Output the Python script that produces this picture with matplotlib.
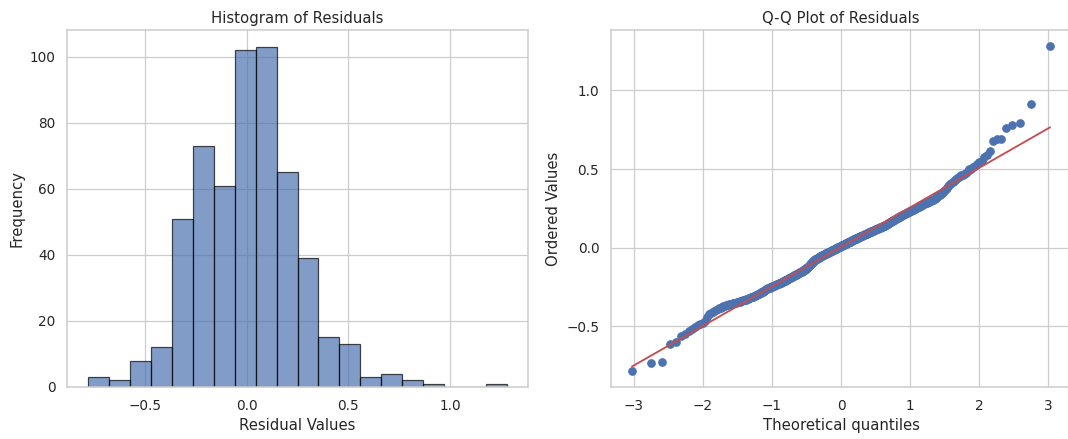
import numpy as np
import matplotlib
matplotlib.use("Agg")
import matplotlib.pyplot as plt
import seaborn as sns
from statistics import NormalDist

resid_cola_izq = [
    -0.783, -0.735, -0.728,
    -0.611, -0.597,
    -0.562, -0.548, -0.531, -0.515, -0.503, -0.494, -0.486, -0.479,
    -0.468, -0.441, -0.424, -0.415, -0.409, -0.402, -0.397, -0.391, -0.386, -0.382, -0.378, -0.374,
]

resid_bajo = [
    -0.368, -0.366, -0.364, -0.363, -0.361, -0.359, -0.357, -0.355, -0.354, -0.352,
    -0.350, -0.348, -0.346, -0.344, -0.343, -0.341, -0.339, -0.337, -0.335, -0.333,
    -0.331, -0.330, -0.328, -0.326, -0.324, -0.322, -0.320, -0.318, -0.317, -0.315,
    -0.313, -0.311, -0.309, -0.307, -0.305, -0.303, -0.301, -0.299, -0.297, -0.295,
    -0.293, -0.291, -0.289, -0.287, -0.285, -0.283, -0.281, -0.278, -0.276, -0.273, -0.270,
    -0.265, -0.264, -0.262, -0.261, -0.259, -0.258, -0.257, -0.255, -0.254, -0.252,
    -0.251, -0.250, -0.248, -0.247, -0.245, -0.244, -0.243, -0.241, -0.240, -0.238,
    -0.237, -0.236, -0.234, -0.233, -0.231, -0.230, -0.229, -0.227, -0.226, -0.224,
    -0.223, -0.222, -0.220, -0.219, -0.217, -0.216, -0.215, -0.213, -0.212, -0.210,
    -0.209, -0.208, -0.206, -0.205, -0.203, -0.202, -0.201, -0.199, -0.198, -0.196,
    -0.195, -0.194, -0.192, -0.191, -0.189, -0.188, -0.187, -0.185, -0.184, -0.182,
    -0.181, -0.180, -0.178, -0.177, -0.175, -0.174, -0.173, -0.171, -0.170, -0.169,
    -0.168, -0.167, -0.166,
    -0.162, -0.161, -0.160, -0.159, -0.158, -0.157, -0.156, -0.154, -0.153, -0.152,
    -0.151, -0.149, -0.148, -0.147, -0.145, -0.144, -0.142, -0.141, -0.139, -0.137,
    -0.136, -0.134, -0.132, -0.130, -0.128, -0.126, -0.124, -0.122, -0.120, -0.118,
    -0.116, -0.114, -0.112, -0.110, -0.107, -0.105, -0.103, -0.100, -0.098, -0.096,
    -0.093, -0.091, -0.089, -0.087, -0.085, -0.083, -0.081, -0.079, -0.077, -0.075,
    -0.074, -0.072, -0.071, -0.070, -0.069, -0.067, -0.066, -0.065, -0.064, -0.063,
    -0.062,
]

resid_centro = [
    -0.059, -0.058, -0.057, -0.055, -0.054, -0.053, -0.052, -0.051, -0.050, -0.049,
    -0.048, -0.047, -0.046, -0.045, -0.044, -0.043, -0.042, -0.041, -0.040, -0.039,
    -0.038, -0.037, -0.036, -0.035, -0.034, -0.033, -0.032, -0.031, -0.030, -0.029,
    -0.028, -0.027, -0.026, -0.025, -0.024, -0.023, -0.022, -0.021, -0.020, -0.019,
    -0.018, -0.017, -0.016, -0.015, -0.014, -0.013, -0.012, -0.011, -0.010, -0.009,
    -0.008, -0.007, -0.006, -0.005, -0.004, -0.003, -0.002, -0.001, 0.000, 0.001,
    0.002, 0.003, 0.004, 0.005, 0.006, 0.007, 0.008, 0.009, 0.010, 0.011,
    0.012, 0.013, 0.014, 0.015, 0.016, 0.017, 0.018, 0.019, 0.020, 0.021,
    0.022, 0.023, 0.024, 0.025, 0.026, 0.027, 0.028, 0.029, 0.030, 0.031,
    0.032, 0.033, 0.034, 0.035, 0.036, 0.037, 0.038, 0.038, 0.039, 0.040,
    0.041, 0.041,
    0.044, 0.045, 0.046, 0.047, 0.048, 0.049, 0.050, 0.051, 0.052, 0.053,
    0.054, 0.055, 0.056, 0.057, 0.058, 0.059, 0.060, 0.061, 0.062, 0.062,
    0.063, 0.064, 0.065, 0.066, 0.067, 0.068, 0.069, 0.070, 0.071, 0.072,
    0.073, 0.074, 0.075, 0.076, 0.077, 0.078, 0.079, 0.080, 0.081, 0.082,
    0.083, 0.084, 0.085, 0.086, 0.087, 0.088, 0.089, 0.090, 0.091, 0.092,
    0.093, 0.094, 0.095, 0.096, 0.097, 0.097, 0.098, 0.099, 0.100, 0.101,
    0.102, 0.103, 0.104, 0.105, 0.106, 0.107, 0.108, 0.109, 0.110, 0.111,
    0.112, 0.113, 0.114, 0.115, 0.116, 0.117, 0.118, 0.119, 0.120, 0.121,
    0.122, 0.123, 0.124, 0.125, 0.126, 0.127, 0.128, 0.129, 0.130, 0.131,
    0.132, 0.133, 0.134, 0.135, 0.136, 0.137, 0.138, 0.139, 0.140, 0.141,
    0.142, 0.143, 0.144,
]

resid_alto = [
    0.147, 0.149, 0.150, 0.152, 0.153, 0.155, 0.156, 0.158, 0.160, 0.161,
    0.163, 0.164, 0.166, 0.167, 0.169, 0.171, 0.172, 0.174, 0.175, 0.177,
    0.178, 0.180, 0.182, 0.183, 0.185, 0.186, 0.188, 0.189, 0.191, 0.193,
    0.194, 0.196, 0.197, 0.199, 0.200, 0.202, 0.204, 0.205, 0.207, 0.208,
    0.210, 0.211, 0.213, 0.215, 0.216, 0.218, 0.219, 0.221, 0.222, 0.224,
    0.226, 0.227, 0.229, 0.230, 0.232, 0.233, 0.235, 0.237, 0.238, 0.240,
    0.241, 0.243, 0.244, 0.246, 0.247,
    0.251, 0.253, 0.255, 0.257, 0.259, 0.261, 0.263, 0.265, 0.267, 0.269,
    0.271, 0.273, 0.275, 0.277, 0.279, 0.281, 0.283, 0.285, 0.287, 0.289,
    0.291, 0.293, 0.295, 0.297, 0.299, 0.301, 0.303, 0.306, 0.309, 0.312,
    0.315, 0.319, 0.323, 0.327, 0.332, 0.336, 0.340, 0.345, 0.350,
]

resid_cola_der = [
    0.356, 0.362, 0.369, 0.375, 0.382, 0.389, 0.396, 0.404, 0.411, 0.418,
    0.425, 0.432, 0.439, 0.446, 0.452,
    0.458, 0.461, 0.464, 0.467, 0.472, 0.489, 0.498, 0.503, 0.511, 0.522,
    0.533, 0.542, 0.553,
    0.575, 0.592, 0.614,
    0.677, 0.688, 0.692, 0.760,
    0.777, 0.790,
    0.913,
    1.281,
]

sns.set_theme(style="whitegrid")

residuos = np.sort(np.array(resid_cola_izq + resid_bajo + resid_centro + resid_alto + resid_cola_der))
n = len(residuos)

# Cuantiles teoricos (estimacion de Filliben, como probplot)
m = (np.arange(1, n + 1) - 0.3175) / (n + 0.365)
m[-1] = 0.5 ** (1.0 / n)
m[0] = 1 - m[-1]
nd = NormalDist()
teoricos = np.array([nd.inv_cdf(p) for p in m])
pendiente, intercepto = np.polyfit(teoricos, residuos, 1)

fig = plt.figure(figsize=(12, 439 / 89), dpi=89)
ax1 = fig.add_axes([67 / 1068, 52 / 439, 461 / 1068, 357 / 439])
ax2 = fig.add_axes([611 / 1068, 52 / 439, 460 / 1068, 357 / 439])

# Histograma
ax1.hist(residuos, bins=20, edgecolor="black", alpha=0.7)
ax1.set_title("Histogram of Residuals")
ax1.set_xlabel("Residual Values")
ax1.set_ylabel("Frequency")

# Grafico Q-Q
ax2.plot(teoricos, residuos, "bo")
ax2.plot(teoricos, pendiente * teoricos + intercepto, "r-")
ax2.set_title("Q-Q Plot of Residuals")
ax2.set_xlabel("Theoretical quantiles")
ax2.set_ylabel("Ordered Values")

fig.savefig("out.png", dpi=89)
